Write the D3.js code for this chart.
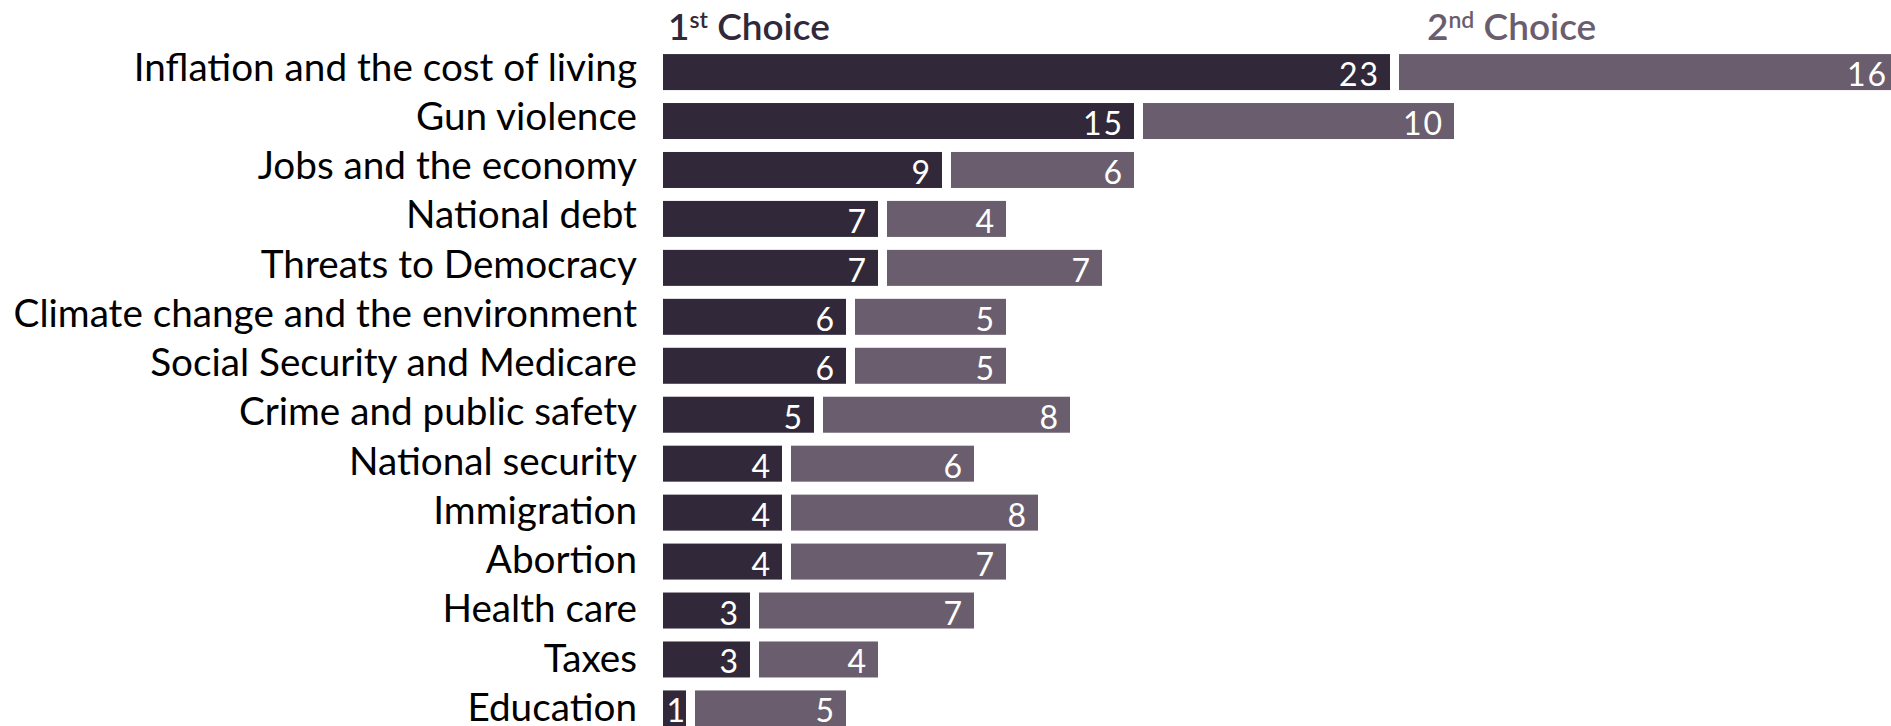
<!DOCTYPE html>
<html>
<head>
<meta charset="utf-8">
<script src="https://cdn.jsdelivr.net/npm/d3@7"></script>
<style>
  html, body { margin: 0; padding: 0; background: #ffffff; }
  svg { display: block; }
  text { font-family: Lato, "Liberation Sans", sans-serif; }
</style>
</head>
<body>
<svg id="chart" width="1891" height="726"></svg>
<script>
// Top issues: share naming each as 1st and 2nd choice
const categories = [
  "Inflation and the cost of living",
  "Gun violence",
  "Jobs and the economy",
  "National debt",
  "Threats to Democracy",
  "Climate change and the environment",
  "Social Security and Medicare",
  "Crime and public safety",
  "National security",
  "Immigration",
  "Abortion",
  "Health care",
  "Taxes",
  "Education"
];
const firstChoice  = [23, 15, 9, 7, 7, 6, 6, 5, 4, 4, 4, 3, 3, 1];
const secondChoice = [16, 10, 6, 4, 7, 5, 5, 8, 6, 8, 7, 7, 4, 5];

const colors = ["#31293a", "#6a5e6e"];
const W = 1891, H = 726;
const gap = 9;            // white space after each segment
const svg = d3.select("#chart");

const x = d3.scaleLinear().domain([0, 39]).range([663, 663 + 39 * 32]);
const y = d3.scaleBand()
  .domain(categories)
  .range([47.6, 47.6 + 14 * 48.95])
  .paddingInner(0.2646)
  .paddingOuter(0.1323);
// row baselines for the category names
const yLabel = d3.scalePoint()
  .domain(categories)
  .range([80.5, 80.5 + 13 * 49.25]);

const rows = categories.map((c, i) => ({ cat: c, a: firstChoice[i], b: secondChoice[i] }));

// category labels
svg.append("g").selectAll("text").data(rows).join("text")
  .attr("x", 637)
  .attr("y", d => yLabel(d.cat))
  .attr("text-anchor", "end")
  .attr("fill", "#000")
  .style("font-size", "38.7px")
  .text(d => d.cat);

// stacked segments
const segs = [];
rows.forEach(d => {
  segs.push({ cat: d.cat, s: 0, x0: 0, v: d.a });
  segs.push({ cat: d.cat, s: 1, x0: d.a, v: d.b });
});

const g = svg.append("g");
g.selectAll("rect").data(segs).join("rect")
  .attr("x", d => x(d.x0))
  .attr("y", d => y(d.cat))
  .attr("width", d => x(d.x0 + d.v) - x(d.x0) - gap)
  .attr("height", y.bandwidth())
  .attr("fill", d => colors[d.s]);

g.selectAll("text").data(segs).join("text")
  .attr("x", d => Math.min(Math.max(x(d.x0 + d.v) - gap - 10, x(d.x0) + 24), W - 3))
  .attr("y", d => y(d.cat) + 32)
  .attr("text-anchor", "end")
  .attr("fill", "#ffffff")
  .style("font-size", "32px")
  .style("letter-spacing", "2px")
  .text(d => d.v);

// series headings
const heads = [
  { num: "1", sup: "st", rest: " Choice", x: x(0) + 5, c: colors[0] },
  { num: "2", sup: "nd", rest: " Choice", x: x(firstChoice[0]) + 28, c: colors[1] }
];
heads.forEach(h => {
  const t = svg.append("text")
    .attr("x", h.x)
    .attr("y", 40)
    .attr("fill", h.c)
    .style("font-size", "37px")
    .style("font-weight", "600");
  t.append("tspan").text(h.num);
  t.append("tspan").attr("dy", -12).style("font-size", "23px").text(h.sup);
  t.append("tspan").attr("dy", 12).text(h.rest);
});
</script>
</body>
</html>
